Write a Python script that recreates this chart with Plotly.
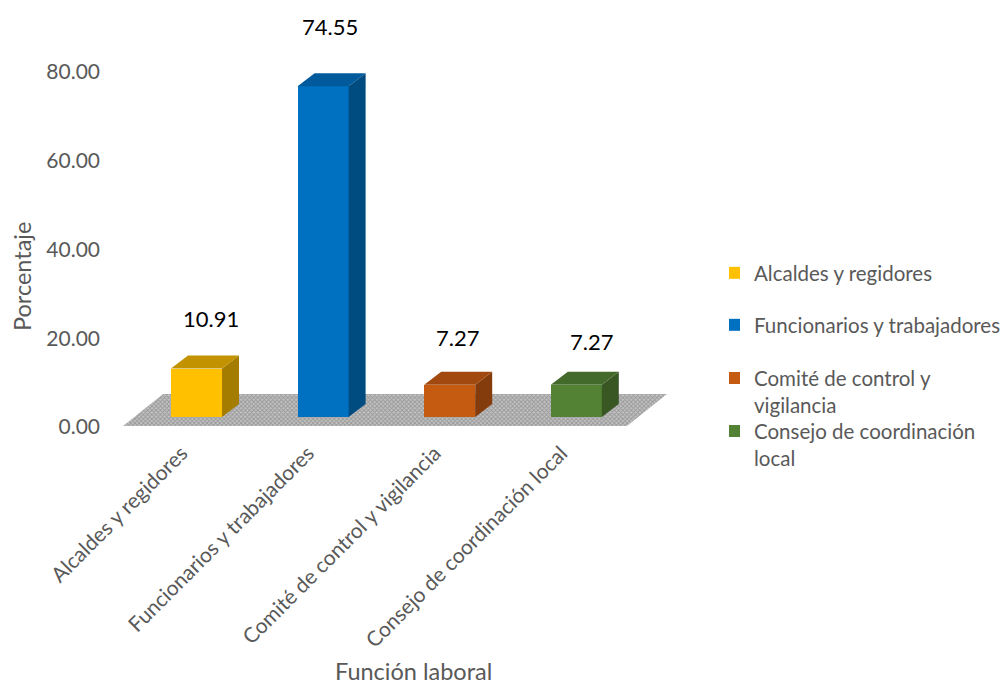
import plotly.graph_objects as go

CATEGORIES = ["Alcaldes y regidores", "Funcionarios y trabajadores", "Comité de control y vigilancia", "Consejo de coordinación local"]
VALUES = [10.91, 74.55, 7.27, 7.27]
VALUE_LABELS = ["10.91", "74.55", "7.27", "7.27"]
LEGEND_LABELS = ["Alcaldes y regidores", "Funcionarios y trabajadores",
                 "&nbsp;<br>Comité de control y<br>vigilancia",
                 "&nbsp;<br>Consejo de coordinación<br>local"]
Y_TICKS = [0, 20, 40, 60, 80]
Y_TICK_LABELS = ["0.00", "20.00", "40.00", "60.00", "80.00"]

FRONT = ["#FFC000", "#0070C0", "#C55A11", "#548235"]
TOP = ["#C29200", "#005A9B", "#A1490E", "#446A2B"]
SIDE = ["#A37C00", "#004B80", "#843C0C", "#385723"]

W, H = 1008, 684
L_PX, R_PX, T_PX, B_PX = 101, 722, 20, 426
X0_PX, X_STEP = 196.5, 126.6
Y_SCALE = 4.4375
BAR_OFFSET_PX = 9
BAR_W = 51 / X_STEP
DX, DY = 17 / X_STEP, 13 / Y_SCALE
FONT = "Lato"
GREY = "#595959"
TICK_SIZE = 21
LEGEND_SIZE = 20.5
TITLE_SIZE = 23.5

fig = go.Figure()

# floor
fig.add_trace(go.Scatter(
    x=[-0.58, 3.40, 3.716, -0.264, -0.58], y=[0, 0, 7.2, 7.2, 0],
    mode="none", fill="toself", fillcolor="#FFFFFF",
    fillpattern=dict(shape="x", size=3, solidity=0.55, fgcolor="#6E6E6E", bgcolor="#C4C4C4"),
    showlegend=False, hoverinfo="skip", xaxis="x", yaxis="y"))

for i, (cat, v) in enumerate(zip(CATEGORIES, VALUES)):
    l, r = i - BAR_W / 2, i + BAR_W / 2
    fig.add_trace(go.Bar(x=[i], y=[v], width=BAR_W, name=LEGEND_LABELS[i],
                         marker=dict(color=FRONT[i], line=dict(width=0)),
                         legend="legend" if i == 0 else f"legend{i + 1}",
                         hovertext=cat, xaxis="x", yaxis="y2"))
    fig.add_trace(go.Scatter(x=[r, r + DX, r + DX, r, r], y=[0, DY, v + DY, v, 0],
                             mode="none", fill="toself", fillcolor=SIDE[i],
                             showlegend=False, hoverinfo="skip", xaxis="x", yaxis="y2"))
    fig.add_trace(go.Scatter(x=[l, r, r + DX, l + DX, l], y=[v, v, v + DY, v + DY, v],
                             mode="none", fill="toself", fillcolor=TOP[i],
                             showlegend=False, hoverinfo="skip", xaxis="x", yaxis="y2"))

LABEL_SHIFTS = [(14.5, 50), (6.5, 60), (7.5, 47), (15.5, 43)]
annotations = [dict(x=i, y=v, xref="x", yref="y2", text=VALUE_LABELS[i], showarrow=False,
                    xshift=LABEL_SHIFTS[i][0], yshift=LABEL_SHIFTS[i][1],
                    font=dict(family=FONT, size=22, color="#000000"))
               for i, v in enumerate(VALUES)]
annotations += [
    dict(x=413 / W, y=1 - 671 / H, xref="paper", yref="paper", text="Función laboral", showarrow=False,
         xanchor="center", yanchor="middle",
         font=dict(family=FONT, size=TITLE_SIZE, color=GREY)),
    dict(x=22 / W, y=1 - 277 / H, xref="paper", yref="paper", text="Porcentaje", textangle=-90, showarrow=False,
         xanchor="center", yanchor="middle",
         font=dict(family=FONT, size=TITLE_SIZE, color=GREY)),
]

legend_base = dict(xanchor="left", yanchor="middle", bgcolor="rgba(0,0,0,0)", indentation=-15,
                   font=dict(family=FONT, size=LEGEND_SIZE, color=GREY))
LEGEND_Y_PX = [273, 325, 378, 431]
legends = {("legend" if i == 0 else f"legend{i + 1}"): dict(legend_base, x=729 / W, y=1 - yp / H)
           for i, yp in enumerate(LEGEND_Y_PX)}

fig.update_layout(
    width=W, height=H, autosize=False, margin=dict(l=0, r=0, t=0, b=0),
    paper_bgcolor="white", plot_bgcolor="rgba(0,0,0,0)",
    showlegend=True, bargap=0, annotations=annotations,
    xaxis=dict(domain=[L_PX / W, R_PX / W], automargin=False,
               range=[(L_PX - X0_PX) / X_STEP, (R_PX - X0_PX) / X_STEP],
               tickmode="array", tickvals=list(range(len(CATEGORIES))), ticktext=CATEGORIES,
               tickangle=-45, showgrid=False, zeroline=False, showline=False, ticks="",
               ticklabelshift=-15, ticklabelstandoff=10,
               tickfont=dict(family=FONT, size=TICK_SIZE, color=GREY)),
    yaxis=dict(domain=[1 - B_PX / H, 1 - T_PX / H], automargin=False,
               range=[0, (B_PX - T_PX) / Y_SCALE],
               tickmode="array", tickvals=Y_TICKS, ticktext=Y_TICK_LABELS,
               ticklabelshift=1,
               showgrid=False, zeroline=False, showline=False, ticks="",
               tickfont=dict(family=FONT, size=TICK_SIZE, color=GREY)),
    yaxis2=dict(domain=[1 - B_PX / H, 1 - T_PX / H], overlaying="y", visible=False, automargin=False,
                range=[-BAR_OFFSET_PX / Y_SCALE, (B_PX - T_PX - BAR_OFFSET_PX) / Y_SCALE]),
    **legends,
)

fig.write_html("out.html", config={"displayModeBar": False}, post_script="document.body.style.margin='0';")
